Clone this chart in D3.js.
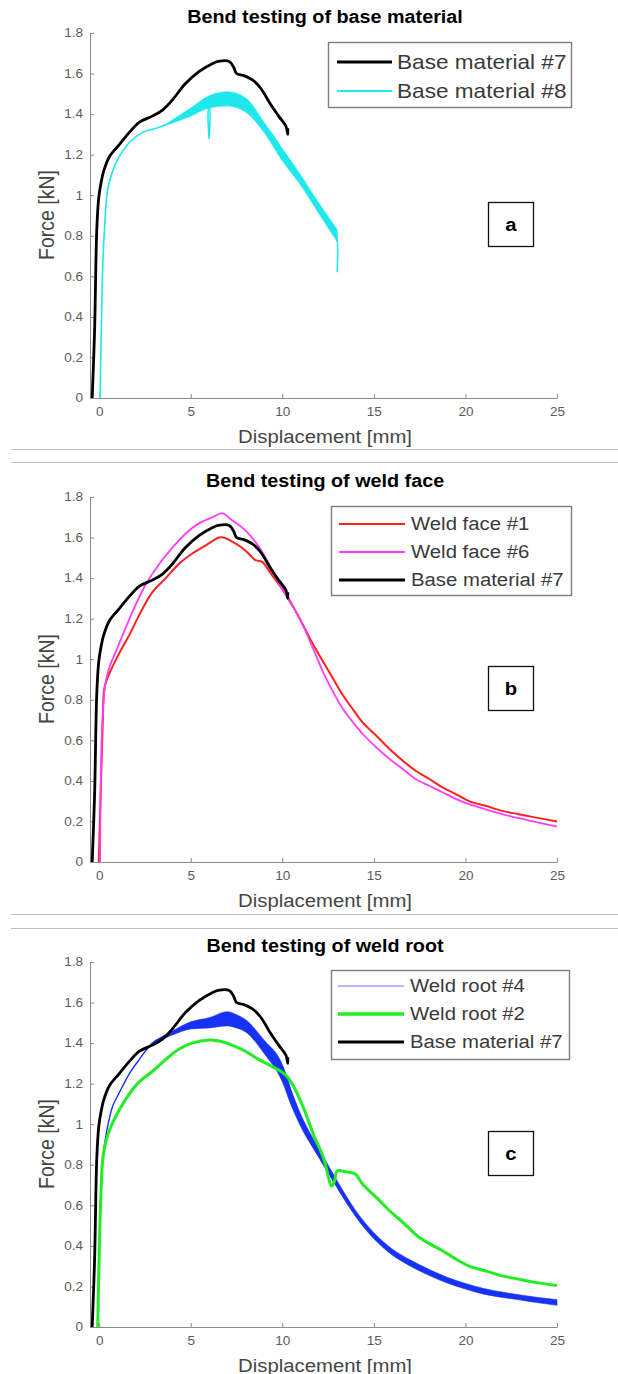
<!DOCTYPE html>
<html>
<head>
<meta charset="utf-8">
<script src="https://cdn.jsdelivr.net/npm/d3@7"></script>
<style>
  body { margin: 0; background: #fff; }
  svg { display: block; font-family: "Liberation Sans", Arial, sans-serif; }
</style>
</head>
<body>
<svg id="chart" width="618" height="1374"></svg>
<script>
// ---- data (displacement in mm, force in kN) ----
const xTicks = [0, 5, 10, 15, 20, 25]
const yTicks = [0, 0.2, 0.4, 0.6, 0.8, 1, 1.2, 1.4, 1.6, 1.8]

const base7X = [-0.38, -0.25, -0.13, -0.02, 0.1, 0.25, 0.56, 1.1, 1.65, 2.2, 2.9, 3.46, 4.0, 4.7, 5.45, 6.2, 6.5, 7.1, 7.35, 7.5, 7.9, 8.35, 8.8, 9.35, 9.8, 10.2, 10.3, 10.3]
const base7Y = [0, 0.33, 0.83, 0.99, 1.06, 1.12, 1.19, 1.25, 1.31, 1.36, 1.39, 1.42, 1.47, 1.55, 1.61, 1.65, 1.66, 1.66, 1.63, 1.60, 1.59, 1.57, 1.53, 1.45, 1.39, 1.34, 1.30, 1.33]

const base8X = [0.05, 0.12, 0.2, 0.29, 0.47, 0.74, 1.1, 1.65, 2.37, 3.1, 3.82, 4.55, 5.27, 5.95, 6.0, 6.05, 6.54, 7.26, 7.7, 8.17, 8.7, 9.44, 10.16, 11, 12, 12.9, 13.0, 13.0]
const base8Y = [0, 0.35, 0.66, 0.83, 1.03, 1.12, 1.19, 1.26, 1.31, 1.33, 1.355, 1.39, 1.42, 1.46, 1.28, 1.46, 1.47, 1.48, 1.47, 1.44, 1.37, 1.30, 1.19, 1.075, 0.935, 0.81, 0.78, 0.62]
const base8BandX = [3.8, 5, 6, 7, 8, 9, 10, 11, 12, 13]
const base8BandHi = [1.36, 1.43, 1.49, 1.51, 1.48, 1.36, 1.23, 1.10, 0.96, 0.83]
const base8BandLo = [1.35, 1.39, 1.43, 1.44, 1.41, 1.31, 1.17, 1.05, 0.91, 0.77]

const face1X = [-0.02, 0.1, 0.2, 0.29, 0.56, 1.1, 1.65, 2.2, 2.9, 3.64, 4.35, 5.07, 5.8, 6.54, 6.8, 7.26, 7.8, 8.17, 8.5, 8.9, 9.4, 10.2, 10.98, 11.7, 12.25, 12.8, 13.33, 13.88, 14.4, 15.15, 15.87, 16.6, 17.3, 18.05, 18.77, 19.5, 20.2, 21.1, 22.0, 22.9, 23.8, 25.0]
const face1Y = [0, 0.4, 0.7, 0.86, 0.93, 1.03, 1.12, 1.22, 1.33, 1.40, 1.47, 1.52, 1.56, 1.60, 1.60, 1.58, 1.55, 1.52, 1.49, 1.48, 1.42, 1.32, 1.195, 1.07, 0.985, 0.90, 0.82, 0.75, 0.687, 0.621, 0.556, 0.498, 0.449, 0.408, 0.367, 0.334, 0.30, 0.277, 0.252, 0.236, 0.22, 0.20]

const face6X = [0.05, 0.16, 0.34, 0.56, 0.92, 1.47, 2.0, 2.55, 3.28, 4.0, 4.73, 5.45, 6.18, 6.7, 6.85, 7.26, 7.8, 8.35, 8.9, 9.44, 10.16, 10.98, 11.7, 12.25, 12.8, 13.33, 13.88, 14.4, 15.15, 15.87, 16.6, 17.3, 18.05, 18.77, 19.5, 20.2, 21.1, 22.0, 22.9, 23.8, 25.0]
const face6Y = [0, 0.66, 0.88, 0.96, 1.04, 1.16, 1.27, 1.37, 1.47, 1.55, 1.62, 1.67, 1.70, 1.72, 1.715, 1.685, 1.65, 1.60, 1.53, 1.44, 1.32, 1.195, 1.048, 0.933, 0.834, 0.752, 0.687, 0.63, 0.564, 0.507, 0.457, 0.408, 0.375, 0.343, 0.31, 0.285, 0.26, 0.236, 0.216, 0.198, 0.175]

const root4X = [-0.08, 0.0, 0.1, 0.2, 0.38, 0.74, 1.1, 1.65, 2.2, 2.9, 3.46, 4.2, 5.07, 6.0, 6.9, 7.26, 7.6, 8.35, 9.07, 9.8, 10.16, 10.5, 10.9, 11.16, 11.7, 12.4, 12.97, 13.5, 14.05, 14.78, 15.5, 16.2, 16.95, 17.7, 18.4, 19.1, 19.85, 20.6, 21.3, 22.0, 22.9, 23.8, 25.0]
const root4Y = [0, 0.35, 0.66, 0.83, 0.95, 1.09, 1.155, 1.25, 1.32, 1.40, 1.43, 1.455, 1.49, 1.51, 1.53, 1.54, 1.515, 1.47, 1.39, 1.31, 1.25, 1.15, 1.05, 1.0, 0.90, 0.80, 0.70, 0.62, 0.556, 0.474, 0.408, 0.36, 0.318, 0.285, 0.252, 0.228, 0.203, 0.187, 0.17, 0.159, 0.146, 0.133, 0.12]
const root4BandX = [3, 4, 5, 6, 7, 7.5, 8, 9, 10, 10.5, 11, 12, 13, 14, 15, 16, 17, 18, 19, 20, 21, 22, 23, 24, 25]
const root4BandHi = [1.41, 1.46, 1.505, 1.525, 1.555, 1.54, 1.515, 1.415, 1.295, 1.165, 1.05, 0.88, 0.72, 0.575, 0.465, 0.385, 0.33, 0.285, 0.245, 0.215, 0.19, 0.172, 0.158, 0.145, 0.135]
const root4BandLo = [1.40, 1.44, 1.47, 1.475, 1.485, 1.475, 1.455, 1.35, 1.21, 1.09, 0.99, 0.835, 0.685, 0.545, 0.435, 0.355, 0.30, 0.255, 0.217, 0.187, 0.162, 0.146, 0.133, 0.119, 0.107]

const root2X = [-0.08, 0.0, 0.1, 0.2, 0.38, 0.65, 1.1, 1.65, 2.2, 2.9, 3.64, 4.35, 5.07, 6.0, 6.54, 7.26, 7.98, 8.7, 9.44, 10.16, 10.6, 11.16, 11.7, 12.25, 12.7, 12.85, 13.0, 13.5, 13.97, 14.4, 15.15, 15.87, 16.6, 17.5, 18.05, 18.77, 19.5, 20.2, 21.1, 22.0, 22.9, 23.8, 25.0]
const root2Y = [0, 0.35, 0.66, 0.83, 0.92, 0.99, 1.07, 1.15, 1.21, 1.26, 1.32, 1.37, 1.40, 1.415, 1.41, 1.39, 1.36, 1.32, 1.285, 1.245, 1.19, 1.08, 0.95, 0.834, 0.695, 0.72, 0.77, 0.765, 0.756, 0.703, 0.638, 0.572, 0.515, 0.44, 0.41, 0.375, 0.334, 0.30, 0.277, 0.252, 0.236, 0.22, 0.205]

const zip = (xs, ys) => xs.map((x, i) => [x, ys[i]])
const band = (xs, lo, hi) => xs.map((x, i) => [x, lo[i], hi[i]])

const base7 = { name: 'Base material #7', color: '#000000', width: 2.8, legendWidth: 3.2, pts: zip(base7X, base7Y) }
const base8 = { name: 'Base material #8', color: '#1ee8ec', width: 1.6, legendWidth: 2.2, pts: zip(base8X, base8Y), band: band(base8BandX, base8BandLo, base8BandHi) }
const face1 = { name: 'Weld face #1', color: '#ff2020', width: 2, legendWidth: 2.2, pts: zip(face1X, face1Y) }
const face6 = { name: 'Weld face #6', color: '#ff3cff', width: 1.8, legendWidth: 2.2, pts: zip(face6X, face6Y) }
const root4 = { name: 'Weld root #4', color: '#1632f4', width: 1.4, legendWidth: 1, legendColor: '#6f6ff5', pts: zip(root4X, root4Y), band: band(root4BandX, root4BandLo, root4BandHi) }
const root2 = { name: 'Weld root #2', color: '#22ec22', width: 3, legendWidth: 3.4, pts: zip(root2X, root2Y) }

const panels = [
    { top: 0, title: 'Bend testing of base material', tag: 'a', draw: [base7, base8], legend: [base7, base8],
      box: { x: 328, y: 42, w: 243, h: 65 }, rows: [62, 91], sample: [337, 392], textX: 397, fs: 20 },
    { top: 464, title: 'Bend testing of weld face', tag: 'b', draw: [face1, face6, base7], legend: [face1, face6, base7],
      box: { x: 331, y: 42, w: 240, h: 89 }, rows: [60, 88, 116], sample: [339, 405], textX: 411, fs: 18 },
    { top: 929, title: 'Bend testing of weld root', tag: 'c', draw: [root4, root2, base7], legend: [root4, root2, base7],
      box: { x: 331, y: 41, w: 238, h: 89 }, rows: [57, 85, 113], sample: [338, 404], textX: 410, fs: 18 }
]

const sx = 1.13 // the picture is stretched sideways, so text is too
const svg = d3.select('#chart')

// light rules between the panels
const rules = [449, 462, 914, 928]
svg.selectAll('line.rule').data(rules).join('line')
    .attr('class', 'rule')
    .attr('x1', 11).attr('x2', 618)
    .attr('y1', d => d + 0.5).attr('y2', d => d + 0.5)
    .attr('stroke', '#bdbdbd')

const putText = (g, x, y, txt, opts) => {
    return g.append('text')
        .attr('transform', `translate(${x},${y}) scale(${sx},1)`)
        .attr('text-anchor', opts.anchor || 'start')
        .attr('font-size', opts.size)
        .attr('font-weight', opts.weight || 'normal')
        .attr('fill', opts.fill || '#000')
        .text(txt)
}

panels.forEach(p => {
    const g = svg.append('g').attr('transform', `translate(0,${p.top})`)

    const x = d3.scaleLinear().domain([-0.5, 25]).range([90, 557])
    const y = d3.scaleLinear().domain([0, 1.8]).range([398, 33])

    // axes, MATLAB style ticks pointing inward
    const xAxis = g.append('g')
        .attr('transform', `translate(0,${y(0)})`)
        .call(d3.axisBottom(x).tickValues(xTicks).tickFormat(d => d).tickSizeInner(-4).tickSizeOuter(0).tickPadding(9))
    const yAxis = g.append('g')
        .attr('transform', `translate(${x(-0.5)},0)`)
        .call(d3.axisLeft(y).tickValues(yTicks).tickFormat(d => d3.format('~g')(d)).tickSizeInner(-4).tickSizeOuter(0).tickPadding(6))
    ;[xAxis, yAxis].forEach(a => {
        a.select('.domain').attr('stroke', '#8a8a8a')
        a.selectAll('.tick line').attr('stroke', '#8a8a8a')
        a.selectAll('.tick text')
            .attr('font-size', 12)
            .attr('font-family', '"Liberation Sans", Arial, sans-serif')
            .attr('fill', '#5c5c5c')
            .attr('transform', `scale(${sx},1)`)
    })
    yAxis.selectAll('.tick text').attr('x', -7 / sx)

    // noisy envelopes first, then the curves
    const line = d3.line().x(d => x(d[0])).y(d => y(d[1])).curve(d3.curveCatmullRom.alpha(0.5))
    const area = d3.area().x(d => x(d[0])).y0(d => y(d[1])).y1(d => y(d[2])).curve(d3.curveMonotoneX)
    p.draw.forEach(s => {
        if (s.band) {
            g.append('path').datum(s.band)
                .attr('d', area)
                .attr('fill', s.color)
                .attr('stroke', s.color)
                .attr('stroke-width', 0.6)
        }
        g.append('path').datum(s.pts)
            .attr('d', line)
            .attr('fill', 'none')
            .attr('stroke', s.color)
            .attr('stroke-width', s.width)
            .attr('stroke-linejoin', 'round')
    })

    // title and axis labels
    putText(g, 325, 23, p.title, { anchor: 'middle', size: 17.5, weight: 'bold' })
    putText(g, 325, 443, 'Displacement [mm]', { anchor: 'middle', size: 18, fill: '#454545' })
    g.append('text')
        .attr('transform', `translate(54,215) scale(${sx},1) rotate(-90)`)
        .attr('text-anchor', 'middle')
        .attr('font-size', 19.5)
        .attr('fill', '#454545')
        .text('Force [kN]')

    // legend
    g.append('rect')
        .attr('x', p.box.x + 0.5).attr('y', p.box.y + 0.5)
        .attr('width', p.box.w).attr('height', p.box.h)
        .attr('fill', '#fff')
        .attr('stroke', '#7d7d7d').attr('stroke-width', 1.4)
    p.legend.forEach((s, i) => {
        const ry = p.rows[i]
        g.append('line')
            .attr('x1', p.sample[0]).attr('x2', p.sample[1])
            .attr('y1', ry).attr('y2', ry)
            .attr('stroke', s.legendColor || s.color)
            .attr('stroke-width', s.legendWidth)
        putText(g, p.textX, ry + p.fs * 0.36, s.name, { size: p.fs, fill: '#3a3a3a' })
    })

    // panel letter
    g.append('rect')
        .attr('x', 488.5).attr('y', 202.5)
        .attr('width', 45).attr('height', 44)
        .attr('fill', '#fff')
        .attr('stroke', '#111').attr('stroke-width', 1.3)
    putText(g, 511, 231, p.tag, { anchor: 'middle', size: 18, weight: 'bold' })
})
</script>
</body>
</html>
